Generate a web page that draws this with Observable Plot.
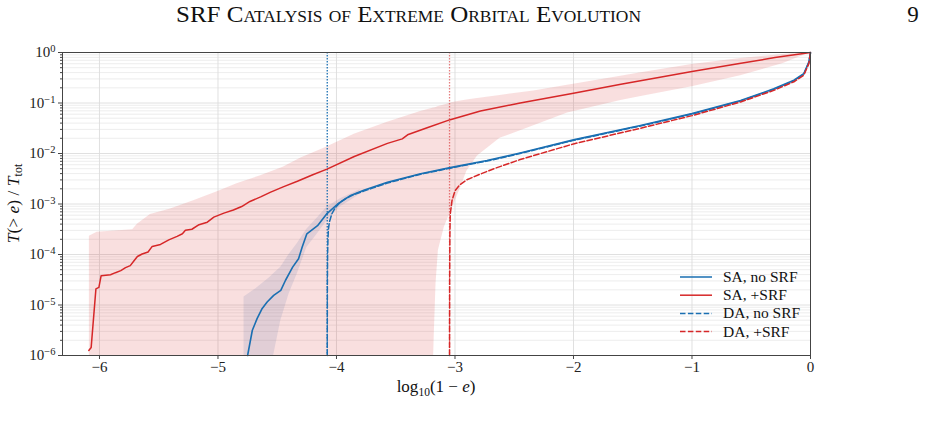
<!DOCTYPE html>
<html>
<head>
<meta charset="utf-8">
<script src="https://cdn.jsdelivr.net/npm/d3@7"></script>
<script src="https://cdn.jsdelivr.net/npm/@observablehq/plot@0.6"></script>
<style>
  body { margin: 0; background: #fff; font-family: "Liberation Serif", serif; }
  #page { position: relative; width: 927px; height: 422px; overflow: hidden; background: #fff; }
  #head { display: block; }
  #chart svg { display: block; }
</style>
</head>
<body>
<div id="page">
  <svg id="head" width="927" height="40">
    <text x="408.5" y="22" text-anchor="middle" font-family="Liberation Serif" font-size="23" textLength="465" lengthAdjust="spacingAndGlyphs" style="font-variant: small-caps" fill="#111">SRF Catalysis of Extreme Orbital Evolution</text>
    <text x="913" y="22" text-anchor="middle" font-family="Liberation Serif" font-size="23" fill="#111">9</text>
  </svg>
  <div id="chart"></div>
</div>
<script>
// ---- data: [log10(1-e), log10(T(>e)/Ttot)] ----
const saNoSrf = [[-4.75,-6.0],[-4.71,-5.50],[-4.67,-5.27],[-4.63,-5.08],[-4.585,-4.94],[-4.53,-4.81],[-4.47,-4.71],[-4.43,-4.51],[-4.37,-4.25],[-4.32,-4.085],[-4.29,-3.855],[-4.25,-3.59],[-4.16,-3.43],[-4.08,-3.19],[-3.99,-3.00],[-3.88,-2.83],[-3.77,-2.73],[-3.57,-2.57],[-3.29,-2.40],[-3.04,-2.28],[-2.73,-2.14],[-2.45,-1.99],[-2.0,-1.73],[-1.435,-1.445],[-1.0,-1.21],[-0.59,-0.95],[-0.31,-0.72],[-0.14,-0.55],[-0.057,-0.42],[-0.014,-0.19],[0,0]];
const saSrf = [[-6.09,-5.90],[-6.07,-5.84],[-6.03,-4.68],[-6.005,-4.65],[-5.986,-4.42],[-5.907,-4.40],[-5.865,-4.36],[-5.82,-4.32],[-5.78,-4.26],[-5.74,-4.22],[-5.71,-4.13],[-5.68,-4.04],[-5.64,-3.99],[-5.59,-3.95],[-5.555,-3.84],[-5.485,-3.80],[-5.415,-3.71],[-5.345,-3.64],[-5.30,-3.59],[-5.275,-3.52],[-5.22,-3.50],[-5.16,-3.41],[-5.09,-3.36],[-5.035,-3.26],[-4.95,-3.18],[-4.87,-3.12],[-4.80,-3.05],[-4.73,-2.95],[-4.64,-2.86],[-4.56,-2.77],[-4.45,-2.66],[-4.33,-2.55],[-4.20,-2.42],[-4.08,-2.31],[-3.85,-2.06],[-3.57,-1.80],[-3.445,-1.71],[-3.40,-1.63],[-3.235,-1.49],[-3.04,-1.33],[-2.785,-1.16],[-2.45,-1.00],[-2.0,-0.805],[-1.6,-0.63],[-1.27,-0.49],[-1.0,-0.376],[-0.6,-0.22],[-0.3,-0.10],[-0.03,-0.01],[0,0]];
const daNoSrf = [[-4.078,-6.0],[-4.077,-4.6],[-4.075,-4.0],[-4.072,-3.7],[-4.068,-3.50],[-4.06,-3.36],[-4.04,-3.20],[-4.01,-3.07],[-3.97,-2.97],[-3.92,-2.89],[-3.85,-2.81],[-3.77,-2.745],[-3.57,-2.585],[-3.29,-2.41],[-3.04,-2.29],[-2.73,-2.15],[-2.45,-2.00],[-2.0,-1.74],[-1.435,-1.455],[-1.0,-1.22],[-0.59,-0.96],[-0.31,-0.73],[-0.14,-0.56],[-0.057,-0.43],[-0.014,-0.20],[0,0]];
const daSrf = [[-3.046,-6.0],[-3.045,-4.5],[-3.043,-3.6],[-3.04,-3.20],[-3.025,-2.93],[-3.0,-2.74],[-2.96,-2.62],[-2.90,-2.52],[-2.81,-2.43],[-2.67,-2.30],[-2.45,-2.12],[-2.0,-1.81],[-1.435,-1.50],[-1.0,-1.25],[-0.59,-0.98],[-0.31,-0.75],[-0.14,-0.58],[-0.057,-0.45],[-0.014,-0.22],[0,0]];
// bands: [x, lower, upper]
const srfBand = [[-6.085,-6,-3.64],[-6.02,-6,-3.56],[-5.72,-6,-3.51],[-5.68,-6,-3.40],[-5.57,-6,-3.21],[-5.40,-6,-3.10],[-5.20,-6,-2.93],[-5.00,-6,-2.75],[-4.84,-6,-2.60],[-4.64,-6,-2.44],[-4.45,-6,-2.27],[-4.30,-6,-2.09],[-4.10,-6,-1.89],[-3.85,-6,-1.62],[-3.57,-6,-1.38],[-3.29,-6,-1.17],[-3.18,-6,-1.10],[-3.175,-5.6,-1.10],[-3.16,-4.58,-1.09],[-3.14,-3.92,-1.07],[-3.09,-3.46,-1.04],[-3.02,-3.06,-0.99],[-2.95,-2.67,-0.96],[-2.90,-2.35,-0.94],[-2.81,-2.05,-0.91],[-2.62,-1.70,-0.85],[-2.335,-1.45,-0.76],[-2.05,-1.20,-0.65],[-1.60,-0.95,-0.47],[-1.43,-0.87,-0.40],[-1.0,-0.68,-0.24],[-0.59,-0.46,-0.12],[-0.23,-0.22,-0.04],[-0.03,-0.03,0],[0,0,0]];
const noSrfBand = [[-4.78,-6,-4.84],[-4.68,-6,-4.68],[-4.56,-6,-4.45],[-4.53,-6,-4.38],[-4.47,-5.31,-4.25],[-4.40,-4.78,-4.00],[-4.33,-4.38,-3.78],[-4.25,-3.86,-3.50],[-4.16,-3.59,-3.27],[-4.08,-3.33,-3.06],[-3.97,-3.06,-2.90],[-3.88,-2.93,-2.80],[-3.80,-2.80,-2.72]];
// vertical reference lines (log10(1-e))
const refNoSrf = [-4.078];
const refSrf = [-3.046];
// ticks
const xTicks = [-6, -5, -4, -3, -2, -1, 0];
const yMajor = [1e-6, 1e-5, 1e-4, 1e-3, 1e-2, 1e-1, 1];
const yMinorMult = [2, 3, 4, 5, 6, 7, 8, 9];
const seriesNames = ["SA, no SRF", "SA, +SRF", "DA, no SRF", "DA, +SRF"];
const seriesColors = ["#1a6fb2", "#d62728", "#1a6fb2", "#d62728"];
const seriesDash = [null, null, "5.5,2.4", "5.5,2.4"];

const yMinor = [];
yMajor.slice(0, -1).forEach(b => yMinorMult.forEach(m => yMinor.push(b * m)));

const BLUE = seriesColors[0], RED = seriesColors[1];
const P = d => 10 ** d;
const font = "Liberation Serif";

const plot = Plot.plot({
  width: 927, height: 382,
  marginLeft: 62, marginRight: 117, marginTop: 12, marginBottom: 67,
  style: { fontFamily: font, fontSize: "15px", color: "#222", background: "white", overflow: "visible" },
  x: { domain: [-6.312, 0] },
  y: { type: "log", domain: [1e-6, 1] },
  marks: [
    Plot.gridY(yMinor, { stroke: "#e8e8e8", strokeOpacity: 1, strokeWidth: 0.8 }),
    Plot.gridY(yMajor, { stroke: "#dcdcdc", strokeOpacity: 1, strokeWidth: 0.9 }),
    Plot.gridX(xTicks, { stroke: "#dcdcdc", strokeOpacity: 1, strokeWidth: 0.9 }),
    Plot.areaY(srfBand, { x: d => d[0], y1: d => P(d[1]), y2: d => P(d[2]), fill: RED, fillOpacity: 0.15, curve: "linear" }),
    Plot.areaY(noSrfBand, { x: d => d[0], y1: d => P(d[1]), y2: d => P(d[2]), fill: "#3a5a9a", fillOpacity: 0.12, curve: "linear" }),
    Plot.ruleX(refNoSrf, { stroke: BLUE, strokeWidth: 1.3, strokeDasharray: "1.4,1.6" }),
    Plot.ruleX(refSrf, { stroke: RED, strokeOpacity: 0.6, strokeWidth: 1.3, strokeDasharray: "1.4,1.6" }),
    Plot.line(daNoSrf, { x: d => d[0], y: d => P(d[1]), stroke: BLUE, strokeWidth: 1.5, strokeDasharray: seriesDash[2] }),
    Plot.line(saNoSrf, { x: d => d[0], y: d => P(d[1]), stroke: BLUE, strokeWidth: 1.6 }),
    Plot.line(daSrf, { x: d => d[0], y: d => P(d[1]), stroke: RED, strokeWidth: 1.5, strokeDasharray: seriesDash[3] }),
    Plot.line(saSrf, { x: d => d[0], y: d => P(d[1]), stroke: RED, strokeWidth: 1.5 }),
    Plot.frame({ stroke: "#444", strokeWidth: 1 }),
    Plot.axisX(xTicks, { tickSize: 4, tickPadding: 2, fontSize: 15, stroke: "#444", fill: "#222",
      tickFormat: d => d === 0 ? "0" : "\u2212" + Math.abs(d), label: null }),
    Plot.axisY(yMinor, { tickSize: 2, stroke: "#444", tickFormat: () => "", label: null }),
    Plot.axisY(yMajor, { tickSize: 4, tickPadding: 3, fontSize: 15, stroke: "#444", fill: "#222",
      tickFormat: d => "10^" + Math.round(Math.log10(d)), label: null })
  ]
});

document.getElementById("chart").appendChild(plot);
const svg = d3.select(plot);

// superscript exponents on y tick labels
svg.selectAll("text").each(function () {
  const t = this.textContent;
  if (t.startsWith("10^")) {
    const e = t.slice(3).replace("-", "\u2212");
    this.textContent = "10";
    d3.select(this).append("tspan").attr("dy", "-0.5em").attr("font-size", "0.7em").text(e);
  }
});

const xs = plot.scale("x"), ys = plot.scale("y");
const [xl, xr] = xs.range, [yb, yt] = ys.range;

// y label
const yLab = svg.append("text")
  .attr("transform", `translate(19,${(yb + yt) / 2}) rotate(-90)`)
  .attr("text-anchor", "middle").attr("font-family", font).attr("font-size", 17.5).attr("fill", "#111");
yLab.append("tspan").attr("font-style", "italic").text("T");
yLab.append("tspan").text("(> ");
yLab.append("tspan").attr("font-style", "italic").text("e");
yLab.append("tspan").text(") / ");
yLab.append("tspan").attr("font-style", "italic").text("T");
yLab.append("tspan").attr("font-size", 12).attr("dy", 3).text("tot");

// x label
const xLab = svg.append("text")
  .attr("x", (xl + xr) / 2).attr("y", yb + 37)
  .attr("text-anchor", "middle").attr("font-family", font).attr("font-size", 17).attr("fill", "#111");
xLab.append("tspan").text("log");
xLab.append("tspan").attr("font-size", 11.5).attr("dy", 4).text("10");
xLab.append("tspan").attr("dy", -4).text("(1 \u2212 ");
xLab.append("tspan").attr("font-style", "italic").text("e");
xLab.append("tspan").text(")");

// legend (inside plot, lower right)
const lg = svg.append("g").attr("transform", `translate(${xr - 130},${yb - 78})`);
seriesNames.forEach((name, i) => {
  const row = lg.append("g").attr("transform", `translate(0,${i * 18.2})`);
  row.append("line").attr("x1", 0).attr("x2", 32).attr("y1", 0).attr("y2", 0)
    .attr("stroke", seriesColors[i]).attr("stroke-width", 1.5)
    .attr("stroke-dasharray", seriesDash[i]);
  row.append("text").attr("x", 43).attr("y", 0).attr("dy", "0.32em")
    .attr("text-anchor", "start")
    .attr("font-family", font).attr("font-size", 15.5).attr("fill", "#111").text(name);
});
</script>
</body>
</html>
